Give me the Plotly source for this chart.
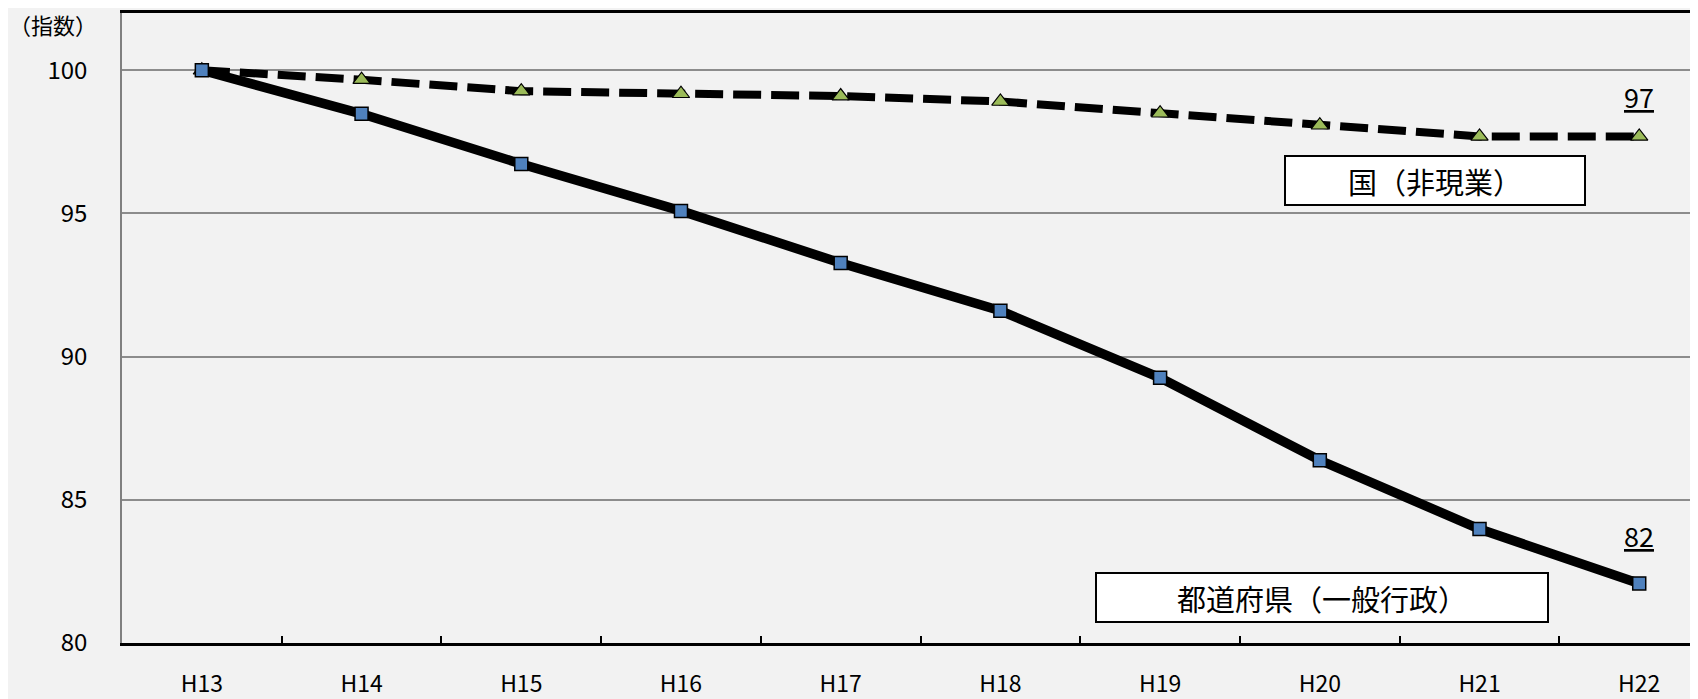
import plotly.graph_objects as go

categories = ["H13", "H14", "H15", "H16", "H17", "H18", "H19", "H20", "H21", "H22"]
pref_values = [100.0, 98.48, 96.73, 95.09, 93.27, 91.6, 89.26, 86.38, 83.98, 82.08]
nat_values = [100.0, 99.67, 99.27, 99.18, 99.1, 98.91, 98.5, 98.08, 97.69, 97.69]
pref_name = "都道府県（一般行政）"
nat_name = "国（非現業）"
end_labels = ["97", "82"]
y_title = "（指数）"
y_ticks = [80, 85, 90, 95, 100]

FONT = "Noto Sans CJK JP"

fig = go.Figure()

fig.add_trace(go.Scatter(
    x=categories, y=nat_values, mode="lines+markers", name=nat_name,
    line=dict(color="black", width=8, dash="28px,10px"),
    marker=dict(symbol="triangle-up", size=15, color="#9bbb59",
                line=dict(color="black", width=1.2)),
    showlegend=False,
))
fig.add_trace(go.Scatter(
    x=categories, y=pref_values, mode="lines+markers", name=pref_name,
    line=dict(color="black", width=9.5),
    marker=dict(symbol="square", size=13, color="#4f81bd",
                line=dict(color="black", width=1.5)),
    showlegend=False,
))

annotations = [
    dict(text=y_title, xref="paper", yref="paper", x=-24 / 1576.0, y=0.983,
         xanchor="right", yanchor="middle", showarrow=False, borderpad=0,
         font=dict(family=FONT, size=22, color="black")),
    dict(text="<u>" + end_labels[0] + "</u>", x=categories[-1], y=99.1, xref="x", yref="y",
         showarrow=False, font=dict(family=FONT, size=27, color="black")),
    dict(text="<u>" + end_labels[1] + "</u>", x=categories[-1], y=83.75, xref="x", yref="y",
         showarrow=False, font=dict(family=FONT, size=27, color="black")),
    dict(text=nat_name, x=7.72, y=96.16, xref="x", yref="y", showarrow=False,
         width=298, height=47, bgcolor="white", bordercolor="black", borderwidth=2,
         borderpad=0, font=dict(family=FONT, size=29, color="black")),
    dict(text=pref_name, x=7.015, y=81.58, xref="x", yref="y", showarrow=False,
         width=450, height=47, bgcolor="white", bordercolor="black", borderwidth=2,
         borderpad=0, font=dict(family=FONT, size=29, color="black")),
]

fig.update_layout(
    width=1690, height=691,
    margin=dict(l=114, r=0, t=5, b=56),
    paper_bgcolor="#f2f2f2", plot_bgcolor="#f2f2f2",
    font=dict(family=FONT, color="black"),
    annotations=annotations,
    xaxis=dict(
        type="category", range=[-0.5, 9.368], automargin=False,
        tickson="boundaries", ticks="inside", ticklen=7, tickwidth=1.5, tickcolor="black",
        showline=True, linecolor="black", linewidth=2.5, mirror=True,
        showgrid=False, zeroline=False,
        tickfont=dict(family=FONT, size=23, color="black"),
        ticklabelstandoff=19,
    ),
    yaxis=dict(
        range=[80, 102], tickvals=y_ticks, automargin=False,
        showline=True, linecolor="#808080", linewidth=1.5,
        showgrid=True, gridcolor="#8c8c8c", gridwidth=1.5,
        zeroline=False, ticks="",
        tickfont=dict(family=FONT, size=24, color="black"),
        ticklabelstandoff=28,
    ),
)

fig.write_html("out.html")
